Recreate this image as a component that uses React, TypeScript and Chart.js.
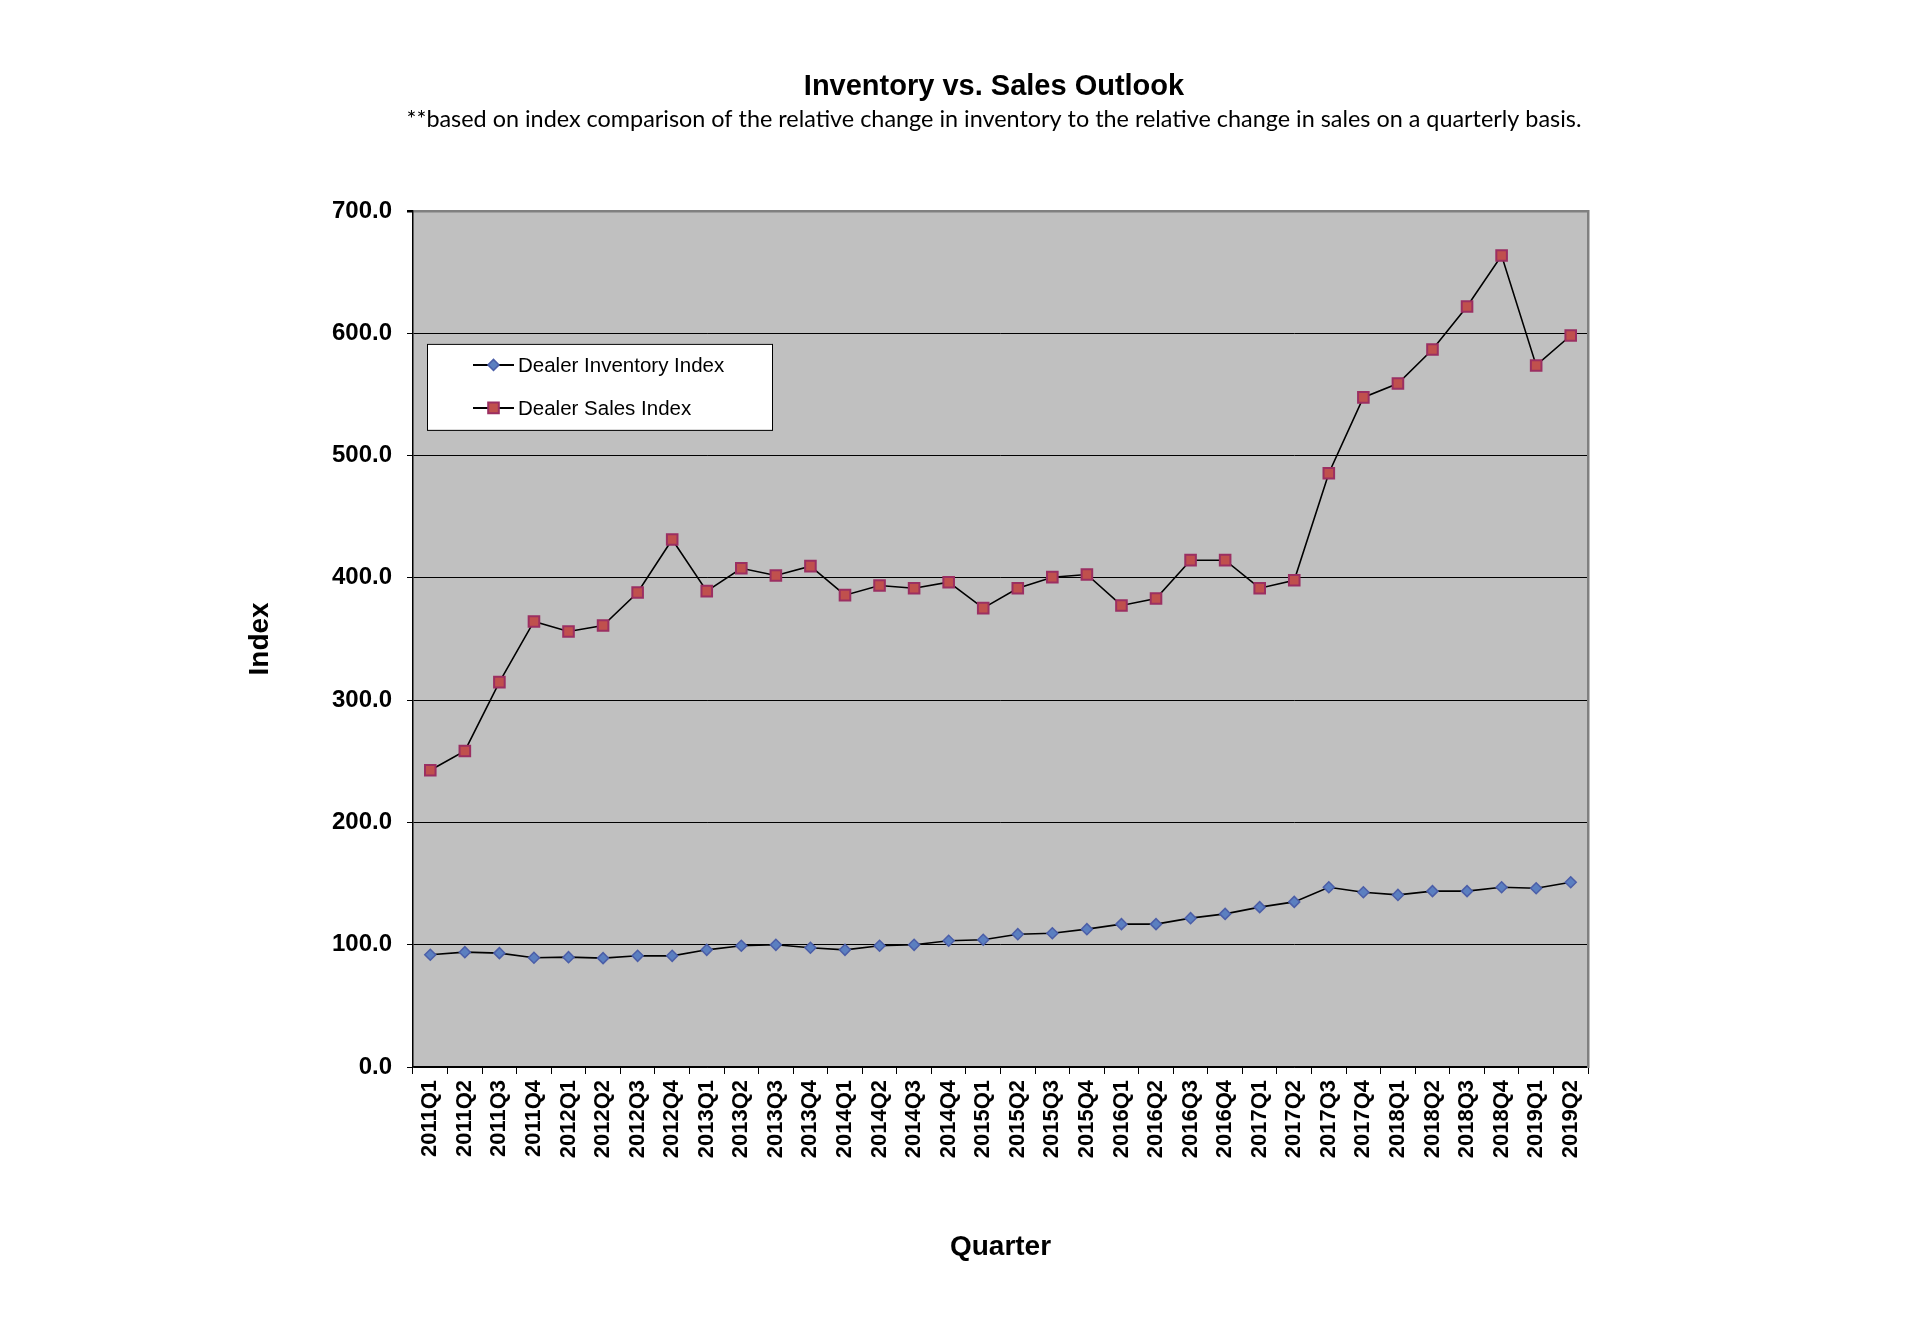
import React, { useEffect, useRef } from 'react';
import { Chart, registerables } from 'chart.js';

Chart.register(...registerables);

const quarters = [
  '2011Q1', '2011Q2', '2011Q3', '2011Q4',
  '2012Q1', '2012Q2', '2012Q3', '2012Q4',
  '2013Q1', '2013Q2', '2013Q3', '2013Q4',
  '2014Q1', '2014Q2', '2014Q3', '2014Q4',
  '2015Q1', '2015Q2', '2015Q3', '2015Q4',
  '2016Q1', '2016Q2', '2016Q3', '2016Q4',
  '2017Q1', '2017Q2', '2017Q3', '2017Q4',
  '2018Q1', '2018Q2', '2018Q3', '2018Q4',
  '2019Q1', '2019Q2',
];

const inventoryIndex = [
  91.8, 93.9, 93.1, 89.3,
  89.8, 89.0, 90.9, 90.9,
  95.8, 99.1, 99.9, 97.5,
  95.8, 99.1, 99.9, 103.2,
  104.0, 108.6, 109.4, 112.7,
  116.8, 116.8, 121.7, 125.2,
  130.7, 135.0, 147.0, 142.9,
  140.7, 143.8, 143.8, 147.0,
  146.2, 151.1,
];

const salesIndex = [
  242.6, 258.4, 314.7, 364.3,
  356.1, 361.0, 388.0, 431.3,
  389.1, 407.8, 401.9, 409.5,
  385.8, 393.7, 391.5, 396.4,
  375.2, 391.5, 400.5, 402.7,
  377.4, 383.1, 414.4, 414.4,
  391.5, 398.0, 485.5, 547.5,
  558.9, 586.7, 621.8, 663.5,
  573.6, 598.1,
];

const yMin = 0;
const yMax = 700;
const yStep = 100;

const seriesNames = ['Dealer Inventory Index', 'Dealer Sales Index'];
const chartTitle = 'Inventory vs. Sales Outlook';
const chartSubtitle =
  '**based on index comparison of the relative change in inventory to the relative change in sales on a quarterly basis.';
const xTitle = 'Quarter';
const yTitle = 'Index';

const plotBgPlugin = {
  id: 'plotBg',
  beforeDraw(chart: any) {
    const { ctx, chartArea } = chart;
    ctx.save();
    ctx.fillStyle = '#C0C0C0';
    ctx.fillRect(chartArea.left, chartArea.top, chartArea.right - chartArea.left, chartArea.bottom - chartArea.top);
    ctx.restore();
  },
};

function drawMarker(ctx: CanvasRenderingContext2D, style: string, x: number, y: number, r: number, fill: string, stroke: string, bw: number) {
  ctx.save();
  ctx.beginPath();
  if (style === 'rectRot') {
    ctx.moveTo(x - r, y);
    ctx.lineTo(x, y - r);
    ctx.lineTo(x + r, y);
    ctx.lineTo(x, y + r);
    ctx.closePath();
  } else {
    const s = r * Math.SQRT1_2;
    ctx.rect(x - s, y - s, 2 * s, 2 * s);
  }
  ctx.fillStyle = fill;
  ctx.fill();
  ctx.lineWidth = bw;
  ctx.strokeStyle = stroke;
  ctx.stroke();
  ctx.restore();
}

const boxLegendPlugin = {
  id: 'boxLegend',
  afterDraw(chart: any) {
    const { ctx, chartArea } = chart;
    const bx = chartArea.left + 14;
    const by = chartArea.top + 133;
    const bw = 345;
    const bh = 86;
    ctx.save();
    ctx.fillStyle = '#FFFFFF';
    ctx.fillRect(bx, by, bw, bh);
    ctx.strokeStyle = '#000000';
    ctx.lineWidth = 1;
    ctx.strokeRect(bx + 0.5, by + 0.5, bw, bh);
    chart.data.datasets.forEach((ds: any, i: number) => {
      const y = by + 21 + i * 43;
      ctx.beginPath();
      ctx.strokeStyle = '#000000';
      ctx.lineWidth = 2;
      ctx.moveTo(bx + 46, y);
      ctx.lineTo(bx + 87, y);
      ctx.stroke();
      drawMarker(ctx, ds.pointStyle, bx + 66.5, y, ds.pointRadius, ds.pointBackgroundColor, ds.pointBorderColor, ds.pointBorderWidth);
      ctx.fillStyle = '#000000';
      ctx.font = '20.5px "Liberation Sans", Arial, sans-serif';
      ctx.textBaseline = 'middle';
      ctx.textAlign = 'left';
      ctx.fillText(ds.label, bx + 91, y + 1);
    });
    ctx.restore();
  },
};

export default function App() {
  const canvasRef = useRef<HTMLCanvasElement | null>(null);

  useEffect(() => {
    const canvas = canvasRef.current;
    if (!canvas) return;
    Chart.defaults.font.family = '"Liberation Sans", Arial, sans-serif';
    Chart.defaults.color = '#000000';

    const chart = new Chart(canvas, {
      type: 'line',
      data: {
        labels: quarters,
        datasets: [
          {
            label: seriesNames[0],
            data: inventoryIndex,
            borderColor: '#000000',
            borderWidth: 1.6,
            pointStyle: 'rectRot',
            pointRadius: 5.5,
            pointBackgroundColor: '#5B7FC0',
            pointBorderColor: '#4B5EA8',
            pointBorderWidth: 1.5,
            tension: 0,
            fill: false,
          } as any,
          {
            label: seriesNames[1],
            data: salesIndex,
            borderColor: '#000000',
            borderWidth: 1.6,
            pointStyle: 'rect',
            pointRadius: 7.5,
            pointBackgroundColor: '#C0504D',
            pointBorderColor: '#9B2F62',
            pointBorderWidth: 2,
            tension: 0,
            fill: false,
          } as any,
        ],
      },
      options: {
        responsive: false,
        animation: false,
        devicePixelRatio: 1,
        layout: { padding: 0 },
        plugins: {
          legend: { display: false },
          tooltip: { enabled: false },
          title: {
            display: true,
            text: chartTitle,
            color: '#000000',
            font: { family: '"Liberation Sans", Arial, sans-serif', size: 29, weight: 'bold' },
            padding: { top: 70, bottom: 0 },
          },
          subtitle: {
            display: true,
            text: chartSubtitle,
            color: '#000000',
            font: { family: 'Lato, "Open Sans", sans-serif', size: 23.4, weight: 'normal' },
            padding: { top: 1, bottom: 77 },
          },
        },
        scales: {
          x: {
            type: 'category',
            offset: true,
            grid: {
              offset: true,
              drawOnChartArea: false,
              drawTicks: true,
              tickLength: 7,
              color: '#000000',
              lineWidth: 1,
            },
            border: { display: true, color: '#000000', width: 1.5 },
            ticks: {
              autoSkip: false,
              minRotation: 90,
              maxRotation: 90,
              padding: 6,
              color: '#000000',
              font: { family: '"Liberation Sans", Arial, sans-serif', size: 22, weight: 'bold' },
            },
            title: {
              display: true,
              text: xTitle,
              color: '#000000',
              font: { family: '"Liberation Sans", Arial, sans-serif', size: 28, weight: 'bold' },
              padding: { top: 0, bottom: 68 },
            },
            afterFit: (s: any) => {
              s.height = 265;
            },
          },
          y: {
            type: 'linear',
            position: 'left',
            min: yMin,
            max: yMax,
            grid: {
              drawOnChartArea: true,
              drawTicks: true,
              tickLength: 6,
              color: (c: any) => (c.tick && c.tick.value === yMax ? '#808080' : '#000000'),
              lineWidth: (c: any) => (c.tick && c.tick.value === yMax ? 2.5 : 1),
              tickColor: '#000000',
            },
            border: { display: true, color: '#000000', width: 1.5 },
            ticks: {
              stepSize: yStep,
              padding: 15,
              color: '#000000',
              font: { family: '"Liberation Sans", Arial, sans-serif', size: 24, weight: 'bold' },
              callback: (v: any) => Number(v).toFixed(1),
            },
            title: {
              display: true,
              text: yTitle,
              color: '#000000',
              font: { family: '"Liberation Sans", Arial, sans-serif', size: 28, weight: 'bold' },
              padding: { top: 170, bottom: 0 },
            },
            afterFit: (s: any) => {
              s.width = 340;
            },
          },
          y2: {
            type: 'linear',
            position: 'right',
            display: true,
            grid: { display: false, drawTicks: false },
            ticks: { display: false },
            border: { display: true, color: '#808080', width: 2.5 },
            afterFit: (s: any) => {
              s.width = 327;
            },
          },
        },
      } as any,
      plugins: [plotBgPlugin, boxLegendPlugin],
    });

    return () => {
      chart.destroy();
    };
  }, []);

  return (
    <div style={{ position: 'absolute', left: 73, top: 0, width: 1842, height: 1332, background: '#FFFFFF' }}>
      <canvas ref={canvasRef} width={1842} height={1332} style={{ display: 'block', width: 1842, height: 1332 }} />
    </div>
  );
}
